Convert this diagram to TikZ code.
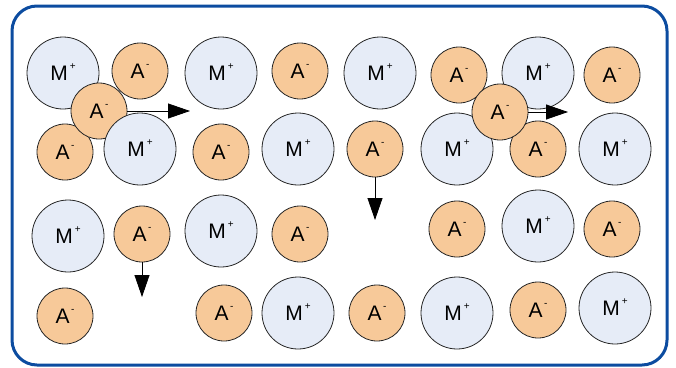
\documentclass[tikz,border=0pt]{standalone}
\usepackage{fontspec}
\setmainfont{Liberation Sans}
\usetikzlibrary{arrows.meta}
\definecolor{mfill}{RGB}{230,236,247}
\definecolor{afill}{RGB}{247,201,153}
\definecolor{frame}{RGB}{12,76,160}
\newcommand{\Mion}{M\kern2pt\raisebox{11pt}{\fontsize{10}{10}\selectfont +}}
\newcommand{\Aion}{A\kern1.5pt\raisebox{11pt}{\fontsize{10}{10}\selectfont -}}
\tikzset{
  cation/.style={circle,draw=black!85,line width=0.8pt,fill=mfill,minimum size=72pt,inner sep=0pt,
    font=\fontsize{21}{21}\selectfont,text height=15pt,text depth=0pt},
  anion/.style={circle,draw=black!85,line width=0.8pt,fill=afill,minimum size=56pt,inner sep=0pt,
    font=\fontsize{21}{21}\selectfont,text height=15pt,text depth=0pt},
  mv/.style={line width=0.8pt,-{Triangle[length=22pt,width=15pt]}},
}
\begin{document}
\begin{tikzpicture}[x=1pt,y=-1pt]
\useasboundingbox (0,0) rectangle (676,367);
\draw[frame,line width=3pt,rounded corners=25pt] (12,6) rectangle (667,365);
% row 1
\node[cation] (m1) at (63,73) {\Mion};
\node[anion] (a1) at (140,71) {\Aion};
\node[cation] (m2) at (221,73) {\Mion};
\node[anion] (a2) at (300,71) {\Aion};
\node[cation] (m3) at (380,73) {\Mion};
\node[anion] (a3) at (459,75) {\Aion};
\node[cation] (m4) at (538,73) {\Mion};
\node[anion] (a4) at (612,75) {\Aion};
% row 2
\node[anion] (a5) at (65,152) {\Aion};
\node[anion] (am1) at (99,111) {\Aion};
\node[cation] (m5) at (140,149) {\Mion};
\node[anion] (a6) at (221,152) {\Aion};
\node[cation] (m6) at (298,149) {\Mion};
\node[anion] (a7) at (375,149) {\Aion};
\node[cation] (m7) at (457,149) {\Mion};
\node[anion] (a8) at (538,149) {\Aion};
\node[cation] (m8) at (615,149) {\Mion};
\node[anion] (am2) at (500,112) {\Aion};
% row 3
\node[cation] (m9) at (68,236) {\Mion};
\node[anion] (a9) at (142,234) {\Aion};
\node[cation] (m10) at (221,231) {\Mion};
\node[anion] (a10) at (300,234) {\Aion};
\node[anion] (a11) at (457,229) {\Aion};
\node[cation] (m11) at (538,226) {\Mion};
\node[anion] (a12) at (612,229) {\Aion};
% row 4
\node[anion] (a13) at (65,316) {\Aion};
\node[anion] (a14) at (224,313) {\Aion};
\node[cation] (m12) at (298,313) {\Mion};
\node[anion] (a15) at (377,313) {\Aion};
\node[cation] (m13) at (457,313) {\Mion};
\node[anion] (a16) at (538,310) {\Aion};
\node[cation] (m14) at (615,308) {\Mion};
% arrows
\coordinate (t1) at (190,111);
\coordinate (t2) at (568,112);
\coordinate (t3) at (375,220);
\coordinate (t4) at (142,297);
\draw[mv] (am1.east) -- (t1);
\draw[mv] (am2.east) -- (t2);
\draw[mv] (a7.south) -- (t3);
\draw[mv] (a9.south) -- (t4);
\end{tikzpicture}
\end{document}
